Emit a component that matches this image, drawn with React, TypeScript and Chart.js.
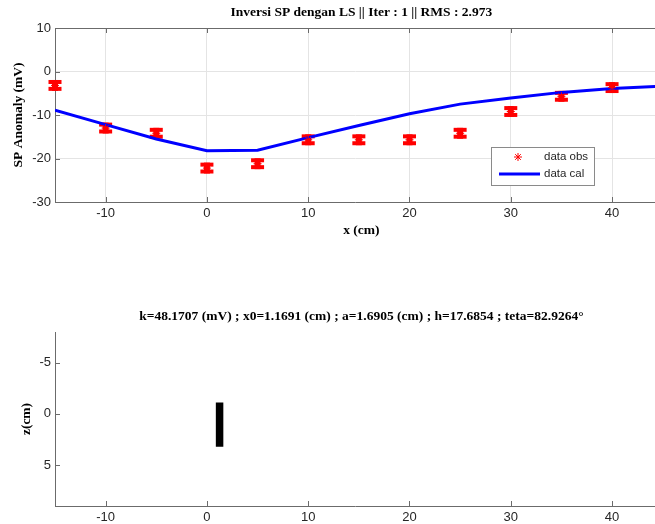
import React, { useEffect, useRef } from 'react';
import { Chart, registerables } from 'chart.js';
Chart.register(...registerables);

// ---------- data ----------
const xObs = [-15, -10, -5, 0, 5, 10, 15, 20, 25, 30, 35, 40];
const spObs = [-3.2, -13.0, -14.2, -22.2, -21.2, -15.7, -15.7, -15.7, -14.2, -9.2, -5.7, -3.7];
const spErr = [1.25, 1.25, 1.25, 1.25, 1.25, 1.25, 1.25, 1.25, 1.25, 1.25, 1.25, 1.25];
const xCal = [-15, -10, -5, 0, 5, 10, 15, 20, 25, 30, 35, 40, 45];
const spCal = [-8.9, -12.2, -15.5, -18.2, -18.1, -15.2, -12.4, -9.7, -7.5, -6.1, -4.8, -3.9, -3.35];
const bodyX = [1.25, 1.25];
const bodyZ = [-1.1, 3.2];

const xTicks = [-10, 0, 10, 20, 30, 40];
const spTicks = [10, 0, -10, -20, -30];
const zTicks = [-5, 0, 5];
const xMin = -15;
const xMaxVisible = 44.24;
const xMaxFull = 45.5;
const spMin = -30;
const spMax = 10;
const zMin = -8;
const zMax = 9;

const title1 = 'Inversi SP dengan LS || Iter : 1 || RMS : 2.973';
const title2 = 'k=48.1707 (mV) ; x0=1.1691 (cm) ; a=1.6905 (cm) ; h=17.6854 ; teta=82.9264°';
const xLabel = 'x (cm)';
const yLabel1 = 'SP Anomaly (mV)';
const yLabel2 = 'z(cm)';
const legendObs = 'data obs';
const legendCal = 'data cal';

// ---------- styles ----------
const TICK_FONT = { family: '"Liberation Sans", Arial, sans-serif', size: 13 };
const TITLE_FONT = 'bold 13.5px "Liberation Serif", "Times New Roman", serif';
const AXIS_COLOR = '#6b6b6b';
const GRID_COLOR = '#e4e4e4';
const TEXT_COLOR = '#262626';

function drawStar(ctx: CanvasRenderingContext2D, x: number, y: number, r: number, color: string) {
  ctx.save();
  ctx.strokeStyle = color;
  ctx.lineWidth = 1;
  ctx.beginPath();
  for (let i = 0; i < 4; i++) {
    const a = (i * Math.PI) / 4;
    ctx.moveTo(x - r * Math.cos(a), y - r * Math.sin(a));
    ctx.lineTo(x + r * Math.cos(a), y + r * Math.sin(a));
  }
  ctx.stroke();
  ctx.restore();
}

function inwardTicks(chart: any, withTop: boolean) {
  const { ctx, chartArea } = chart;
  const xs = chart.scales.x;
  const ys = chart.scales.y;
  ctx.save();
  ctx.strokeStyle = AXIS_COLOR;
  ctx.lineWidth = 1;
  ctx.beginPath();
  xs.ticks.forEach((t: any) => {
    const px = Math.round(xs.getPixelForValue(t.value)) + 0.5;
    ctx.moveTo(px, chartArea.bottom);
    ctx.lineTo(px, chartArea.bottom - 5);
    if (withTop) {
      ctx.moveTo(px, chartArea.top);
      ctx.lineTo(px, chartArea.top + 5);
    }
  });
  ys.ticks.forEach((t: any) => {
    const py = Math.round(ys.getPixelForValue(t.value)) + 0.5;
    ctx.moveTo(chartArea.left, py);
    ctx.lineTo(chartArea.left + 5, py);
  });
  if (withTop) {
    ctx.moveTo(chartArea.left, chartArea.top + 0.5);
    ctx.lineTo(chartArea.right, chartArea.top + 0.5);
  }
  ctx.stroke();
  ctx.restore();
}

function drawTitles(chart: any, title: string, titleY: number, yTitle: string, yTitleX: number, withXTitle: boolean) {
  const { ctx, chartArea } = chart;
  const xs = chart.scales.x;
  const cx = xs.getPixelForValue((xMin + xMaxFull) / 2);
  ctx.save();
  ctx.fillStyle = '#000';
  ctx.font = TITLE_FONT;
  ctx.textAlign = 'center';
  ctx.textBaseline = 'middle';
  ctx.fillText(title, cx, titleY);
  if (withXTitle) ctx.fillText(xLabel, cx, chartArea.bottom + 29);
  ctx.translate(yTitleX, (chartArea.top + chartArea.bottom) / 2);
  ctx.rotate(-Math.PI / 2);
  ctx.fillText(yTitle, 0, 0);
  ctx.restore();
}

const topPlugin = {
  id: 'topDecor',
  beforeDatasetsDraw(chart: any) {
    const { ctx } = chart;
    const xs = chart.scales.x;
    const ys = chart.scales.y;
    ctx.save();
    ctx.fillStyle = '#ff0000';
    xObs.forEach((x, i) => {
      const px = xs.getPixelForValue(x);
      const yt = ys.getPixelForValue(spObs[i] + spErr[i]);
      const yb = ys.getPixelForValue(spObs[i] - spErr[i]);
      ctx.fillRect(px - 6.5, yt, 13, 4);
      ctx.fillRect(px - 6.5, yb - 4, 13, 4);
      ctx.fillRect(px - 3, yt, 6, yb - yt);
    });
    ctx.restore();
  },
  afterDraw(chart: any) {
    const { ctx } = chart;
    inwardTicks(chart, true);
    drawTitles(chart, title1, 13, yLabel1, 19, true);
    // legend
    ctx.save();
    ctx.fillStyle = '#ffffff';
    ctx.fillRect(491, 147, 103, 38);
    ctx.strokeStyle = '#8a8a8a';
    ctx.lineWidth = 1;
    ctx.strokeRect(491.5, 147.5, 103, 38);
    drawStar(ctx, 518, 157, 4, '#ff0000');
    ctx.strokeStyle = '#0000ff';
    ctx.lineWidth = 3;
    ctx.beginPath();
    ctx.moveTo(499, 174);
    ctx.lineTo(540, 174);
    ctx.stroke();
    ctx.fillStyle = TEXT_COLOR;
    ctx.font = '11.5px "Liberation Sans", Arial, sans-serif';
    ctx.textBaseline = 'middle';
    ctx.textAlign = 'left';
    ctx.fillText(legendObs, 544, 157);
    ctx.fillText(legendCal, 544, 174);
    ctx.restore();
  },
};

const bottomPlugin = {
  id: 'bottomDecor',
  afterDraw(chart: any) {
    inwardTicks(chart, false);
    drawTitles(chart, title2, 57, yLabel2, 27, false);
  },
};

function makeX(axisH: number, showGrid: boolean) {
  return {
    type: 'linear',
    min: xMin,
    max: xMaxVisible,
    afterBuildTicks: (s: any) => {
      s.ticks = xTicks.map((v) => ({ value: v }));
    },
    afterFit: (s: any) => {
      s.height = axisH;
      s.paddingLeft = 0;
      s.paddingRight = 0;
    },
    grid: { display: showGrid, color: GRID_COLOR, drawTicks: false, lineWidth: 1 },
    border: { display: true, color: AXIS_COLOR, width: 1 },
    ticks: { font: TICK_FONT, color: TEXT_COLOR, padding: 4, maxRotation: 0 },
  };
}

function makeY(min: number, max: number, ticks: number[], reverse: boolean, showGrid: boolean) {
  return {
    type: 'linear',
    min,
    max,
    reverse,
    afterBuildTicks: (s: any) => {
      s.ticks = ticks.map((v) => ({ value: v }));
    },
    afterFit: (s: any) => {
      s.width = 55;
      s.paddingTop = 0;
      s.paddingBottom = 0;
    },
    grid: { display: showGrid, color: GRID_COLOR, drawTicks: false },
    border: { display: true, color: AXIS_COLOR, width: 1 },
    ticks: { font: TICK_FONT, color: TEXT_COLOR, padding: 4 },
  };
}

export default function App() {
  const topRef = useRef<HTMLCanvasElement>(null);
  const botRef = useRef<HTMLCanvasElement>(null);

  useEffect(() => {
    const top = new Chart(topRef.current as HTMLCanvasElement, {
      type: 'scatter',
      data: {
        datasets: [
          {
            label: legendObs,
            data: xObs.map((x, i) => ({ x, y: spObs[i] })),
            pointStyle: 'star',
            pointRadius: 4,
            borderColor: '#ff0000',
            backgroundColor: '#ff0000',
            borderWidth: 1,
            showLine: false,
            clip: false,
          },
          {
            label: legendCal,
            data: xCal.map((x, i) => ({ x, y: spCal[i] })),
            showLine: true,
            borderColor: '#0000ff',
            borderWidth: 3,
            pointRadius: 0,
            tension: 0,
          },
        ],
      } as any,
      options: {
        animation: false,
        responsive: false,
        layout: { autoPadding: false, padding: { top: 28, left: 0, right: 0, bottom: 0 } },
        plugins: { legend: { display: false }, tooltip: { enabled: false }, title: { display: false } },
        events: [],
        scales: {
          x: makeX(48, true) as any,
          y: makeY(spMin, spMax, spTicks, false, true) as any,
        },
      },
      plugins: [topPlugin],
    });

    const bot = new Chart(botRef.current as HTMLCanvasElement, {
      type: 'scatter',
      data: {
        datasets: [
          {
            label: 'body',
            data: bodyX.map((x, i) => ({ x, y: bodyZ[i] })),
            showLine: true,
            borderColor: '#000000',
            borderWidth: 7.5,
            borderCapStyle: 'butt',
            pointRadius: 0,
          },
        ],
      } as any,
      options: {
        animation: false,
        responsive: false,
        layout: { autoPadding: false, padding: { top: 72, left: 0, right: 0, bottom: 0 } },
        plugins: { legend: { display: false }, tooltip: { enabled: false }, title: { display: false } },
        events: [],
        scales: {
          x: makeX(18, false) as any,
          y: makeY(zMin, zMax, zTicks, true, false) as any,
        },
      },
      plugins: [bottomPlugin],
    });

    return () => {
      top.destroy();
      bot.destroy();
    };
  }, []);

  return (
    <div style={{ position: 'absolute', left: 0, top: 0, width: 655, height: 524, background: '#fff' }}>
      <canvas ref={topRef} width={655} height={250} style={{ position: 'absolute', left: 0, top: 0, display: 'block' }} />
      <canvas ref={botRef} width={655} height={264} style={{ position: 'absolute', left: 0, top: 260, display: 'block' }} />
    </div>
  );
}
